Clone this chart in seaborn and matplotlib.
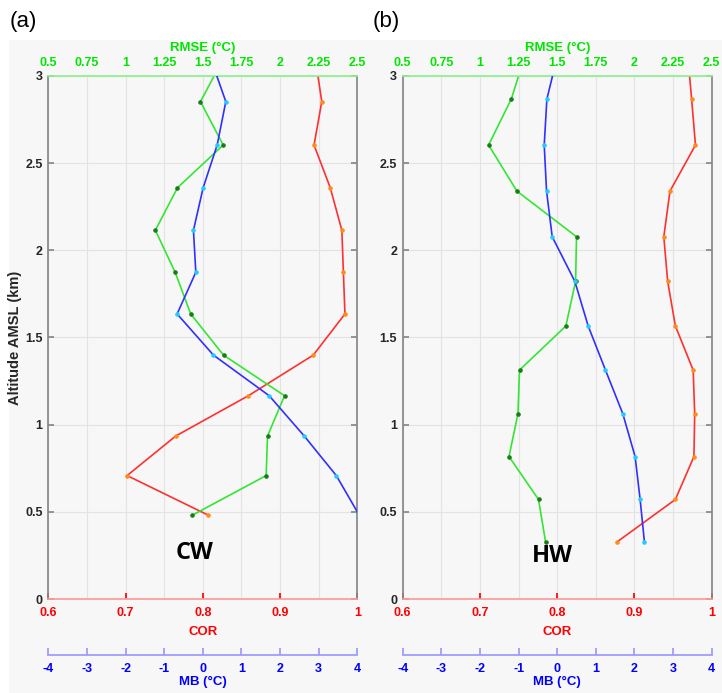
import pandas as pd
import matplotlib.pyplot as plt
import matplotlib.patches as mpatches
import seaborn as sns

# Altitude levels (km); the first level lies just above the 3 km frame
alt_cw = [3.09, 2.853, 2.604, 2.359, 2.115, 1.874, 1.635, 1.399, 1.166, 0.935, 0.708, 0.481]
alt_hw = [3.12, 2.868, 2.604, 2.340, 2.078, 1.822, 1.566, 1.313, 1.063, 0.817, 0.571, 0.326]

# CW case
rmse_cw = [1.627, 1.485, 1.632, 1.336, 1.193, 1.321, 1.422, 1.634, 2.029, 1.919, 1.910, 1.433]
cor_cw = [0.946, 0.954, 0.944, 0.965, 0.980, 0.982, 0.984, 0.943, 0.859, 0.765, 0.702, 0.807]
mb_cw = [0.221, 0.596, 0.372, 0.009, -0.242, -0.181, -0.665, 0.276, 1.719, 2.626, 3.456, 4.05]

# HW case
rmse_hw = [1.293, 1.203, 1.056, 1.239, 1.625, 1.619, 1.556, 1.256, 1.246, 1.188, 1.379, 1.425]
cor_hw = [0.969, 0.974, 0.979, 0.946, 0.938, 0.943, 0.953, 0.976, 0.978, 0.977, 0.953, 0.877]
mb_hw = [0.011, -0.267, -0.336, -0.276, -0.129, 0.457, 0.802, 1.25, 1.698, 2.017, 2.147, 2.259]

rmse_ticks = [0.5, 0.75, 1, 1.25, 1.5, 1.75, 2, 2.25, 2.5]
cor_ticks = [0.6, 0.7, 0.8, 0.9, 1.0]
mb_ticks = [-4, -3, -2, -1, 0, 1, 2, 3, 4]
alt_ticks = [0, 0.5, 1, 1.5, 2, 2.5, 3]

GREEN = "#00e600"
RED = "#ff0000"
BLUE = "#0000ff"
BG = "#f7f7f7"

sns.set_theme(style="white")
plt.rcParams["font.family"] = ["Liberation Sans", "DejaVu Sans"]
plt.rcParams["font.weight"] = "bold"

fig = plt.figure(figsize=(7.22, 6.93), dpi=100, facecolor="white")
fig.patches.append(mpatches.Rectangle((9 / 722, 0), 1, (693 - 40) / 693,
                                      transform=fig.transFigure, facecolor=BG,
                                      edgecolor="none", zorder=-10))

panels = [
    ("(a)", "CW", alt_cw, rmse_cw, cor_cw, mb_cw, 48.3, 10, (195, 553)),
    ("(b)", "HW", alt_hw, rmse_hw, cor_hw, mb_hw, 402.7, 373, (552, 556)),
]

for tag, name, alt, rmse, cor, mb, left_px, tag_px, txt_px in panels:
    ax = fig.add_axes([left_px / 722, (693 - 599) / 693, 309 / 722, 523 / 693])
    ax.set_facecolor(BG)

    # COR on the main (bottom) axis
    df_cor = pd.DataFrame({"COR": cor, "Alt": alt})
    sns.lineplot(data=df_cor, x="COR", y="Alt", sort=False, estimator=None, ax=ax,
                 color="#ff3030", linewidth=1.2, marker="o", markersize=2.5,
                 markerfacecolor="#ff8c1a", markeredgecolor="#ff8c1a")
    ax.set_xlim(0.6, 1.0)
    ax.set_ylim(0, 3)
    ax.set_xticks(cor_ticks)
    ax.set_xticklabels(["0.6", "0.7", "0.8", "0.9", "1"])
    ax.set_xticks([0.65, 0.75, 0.85, 0.95], minor=True)
    ax.set_yticks(alt_ticks)
    ax.set_yticklabels(["0", "0.5", "1", "1.5", "2", "2.5", "3"])
    ax.grid(True, which="both", color="#e3e3e3", linewidth=0.8)
    ax.tick_params(axis="x", which="major", colors=RED, direction="in", length=4,
                   labelsize=9, pad=6)
    ax.tick_params(axis="x", which="minor", length=0)
    ax.tick_params(axis="y", direction="in", length=4, color="#888888",
                   labelcolor="#262626", labelsize=9, pad=4, right=True, left=True)
    ax.set_xlabel("COR", color=RED, fontsize=9.5, fontweight="bold", labelpad=5)
    if tag == "(a)":
        ax.set_ylabel("Altitude AMSL (km)", color="#262626", fontsize=10.5,
                      fontweight="bold", labelpad=2)
    else:
        ax.set_ylabel("")
    ax.spines["bottom"].set_color("#ff9a9a")
    ax.spines["left"].set_color("#888888")
    ax.spines["right"].set_color("#888888")
    ax.spines["top"].set_visible(False)

    # RMSE on the top axis
    ax_r = ax.twiny()
    df_rmse = pd.DataFrame({"RMSE": rmse, "Alt": alt})
    sns.lineplot(data=df_rmse, x="RMSE", y="Alt", sort=False, estimator=None, ax=ax_r,
                 color="#33e633", linewidth=1.2, marker="o", markersize=2.5,
                 markerfacecolor="#1a7a1a", markeredgecolor="#1a7a1a")
    ax_r.set_xlim(0.5, 2.5)
    ax_r.set_ylim(0, 3)
    ax_r.set_xticks(rmse_ticks)
    ax_r.set_xticklabels(["0.5", "0.75", "1", "1.25", "1.5", "1.75", "2", "2.25", "2.5"])
    ax_r.tick_params(axis="x", colors=GREEN, direction="in", length=0, labelsize=9, pad=5)
    ax_r.set_xlabel("RMSE (°C)", color=GREEN, fontsize=9.5, fontweight="bold", labelpad=4)
    ax_r.set_ylabel("")
    ax_r.spines["top"].set_color("#90f090")
    for s in ["bottom", "left", "right"]:
        ax_r.spines[s].set_visible(False)

    # MB on a detached bottom axis
    ax_m = ax.twiny()
    df_mb = pd.DataFrame({"MB": mb, "Alt": alt})
    sns.lineplot(data=df_mb, x="MB", y="Alt", sort=False, estimator=None, ax=ax_m,
                 color="#3030ff", linewidth=1.2, marker="o", markersize=2.5,
                 markerfacecolor="#22ccff", markeredgecolor="#22ccff")
    ax_m.set_xlim(-4, 4)
    ax_m.set_ylim(0, 3)
    ax_m.xaxis.set_ticks_position("bottom")
    ax_m.xaxis.set_label_position("bottom")
    ax_m.spines["bottom"].set_position(("outward", 40))
    ax_m.spines["bottom"].set_color("#9a9aff")
    for s in ["top", "left", "right"]:
        ax_m.spines[s].set_visible(False)
    ax_m.set_xticks(mb_ticks)
    ax_m.set_xticklabels([str(v) for v in mb_ticks])
    ax_m.tick_params(axis="x", colors="#9a9aff", labelcolor=BLUE, direction="in",
                     length=5, labelsize=9, pad=6)
    ax_m.set_xlabel("MB (°C)", color=BLUE, fontsize=9.5, fontweight="bold", labelpad=1)
    ax_m.set_ylabel("")

    fig.text(tag_px / 722, 1 - 22 / 693, tag, fontsize=16, fontweight="normal",
             ha="left", va="center", color="black")
    fig.text(txt_px[0] / 722, 1 - txt_px[1] / 693, name, fontsize=17, fontweight="bold",
             family=["Open Sans", "DejaVu Sans"], ha="center", va="center", color="black")

plt.savefig("out.png", dpi=100, facecolor=fig.get_facecolor())
